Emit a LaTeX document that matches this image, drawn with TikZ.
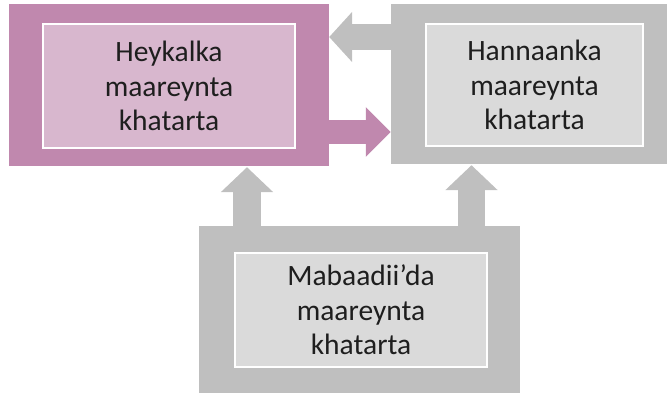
\documentclass[tikz,border=0pt]{standalone}
\usepackage{fontspec}
\setmainfont{Carlito}
\usetikzlibrary{arrows.meta}
\definecolor{mauve}{RGB}{192,136,174}
\definecolor{mauveclair}{RGB}{216,183,206}
\definecolor{grisfonce}{RGB}{191,191,191}
\definecolor{grisclair}{RGB}{218,218,218}
\definecolor{encre}{RGB}{30,30,30}

\begin{document}
\begin{tikzpicture}[x=1pt,y=1pt]
 \tikzstyle{cadre}=[rectangle, inner sep=0pt]
 \tikzstyle{boite}=[rectangle, draw=white, line width=1.5pt, inner sep=0pt, text=encre, align=center, font=\fontsize{29.5}{34.5}\selectfont]
 \tikzstyle{fleche}=[-{Triangle[length=25pt, width=50pt]}, line width=26pt]
 %
 \clip (0,0) rectangle (667,392);
 \node[cadre, fill=mauve, minimum width=320pt, minimum height=162pt] (HeyC) at (169, 307) {};
 \node[cadre, fill=grisfonce, minimum width=287pt, minimum height=160pt] (HanC) at (534.5, 308) {};
 \node[cadre, fill=grisfonce, minimum width=321pt, minimum height=168pt] (MabC) at (359.5, 82) {};
 %
 \draw[fleche, grisfonce, line width=26pt, -{Triangle[length=23pt, width=49pt]}] ([yshift=47pt]HanC.west) -- ([yshift=47pt]HanC.west -| HeyC.east);
 \draw[fleche, mauve, line width=24pt, -{Triangle[length=25pt, width=48pt]}] ([yshift=-47pt]HeyC.east) -- ([yshift=-47pt]HeyC.east -| HanC.west);
 \draw[fleche, grisfonce, line width=28pt, -{Triangle[length=25pt, width=51pt]}] ([xshift=-112.5pt]MabC.north) -- ([xshift=-112.5pt, yshift=-1pt]MabC.north |- HeyC.south);
 \draw[fleche, grisfonce, line width=27pt, -{Triangle[length=25pt, width=51pt]}] ([xshift=112pt]MabC.north) -- ([xshift=112pt, yshift=-1pt]MabC.north |- HanC.south);
 %
 \node[boite, fill=mauveclair, minimum width=252pt, minimum height=124pt] (Hey) at (169, 306) {Heykalka\\maareynta\\khatarta};
 \node[boite, fill=grisclair, minimum width=217pt, minimum height=122pt] (Han) at (534.5, 307) {Hannaanka\\maareynta\\khatarta};
 \node[boite, fill=grisclair, minimum width=252pt, minimum height=114pt] (Mab) at (361, 82) {Mabaadii’da\\maareynta\\khatarta};
\end{tikzpicture}
\end{document}
